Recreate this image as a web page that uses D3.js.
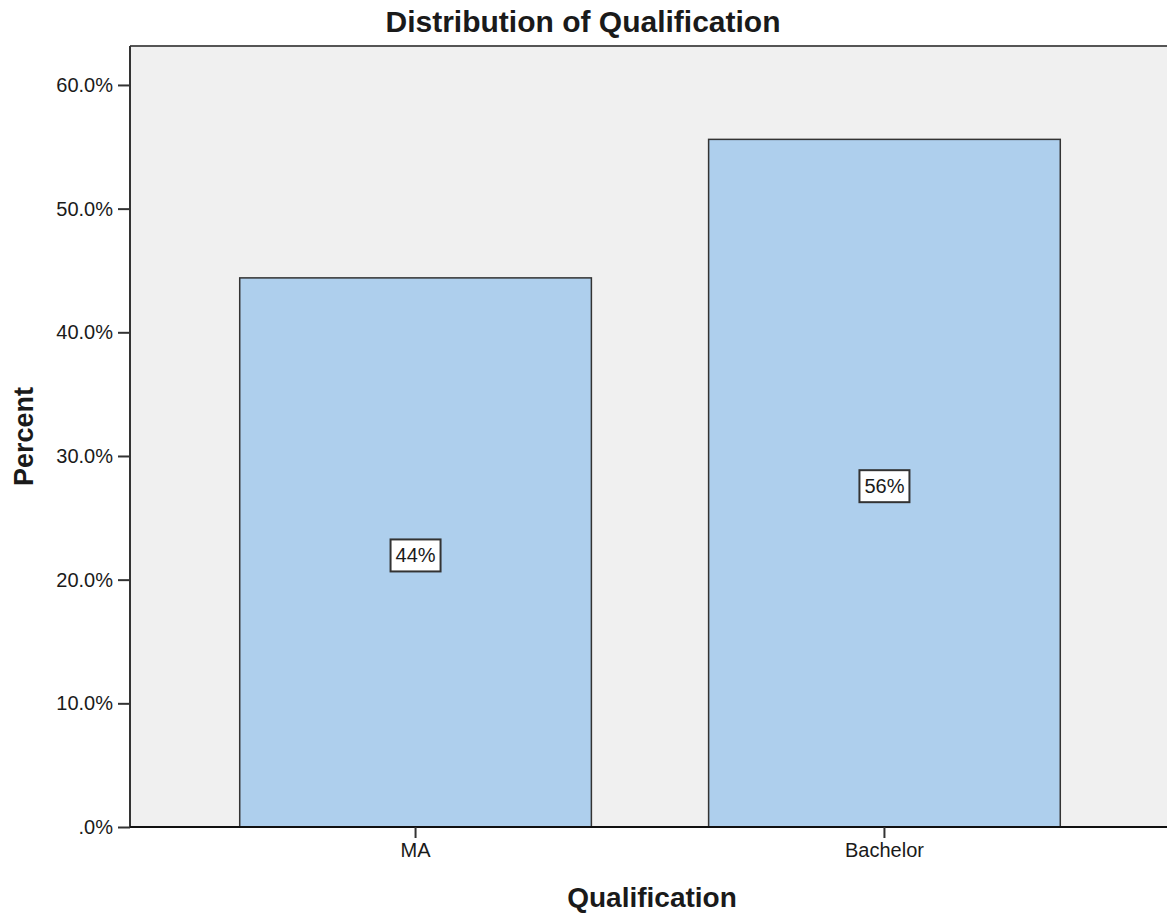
<!DOCTYPE html>
<html>
<head>
<meta charset="utf-8">
<script src="https://cdn.jsdelivr.net/npm/d3@7"></script>
<style>
  html, body { margin: 0; padding: 0; background: #ffffff; }
  svg { display: block; }
  text { font-family: "Liberation Sans", Arial, sans-serif; fill: #1a1a1a; }
</style>
</head>
<body>
<svg id="chart" width="1167" height="914"></svg>
<script>
// ---- data ----
const categories = ["MA", "Bachelor"];
const percents = [44.4, 55.6];
const valueLabels = ["44%", "56%"];
const yTickValues = [0, 10, 20, 30, 40, 50, 60];
const titleText = "Distribution of Qualification";
const xTitle = "Qualification";
const yTitle = "Percent";

// ---- layout ----
const W = 1167, H = 914;
const plot = { left: 130, right: 1167, top: 46, bottom: 827 };

const svg = d3.select("#chart");

const x = d3.scaleBand()
  .domain(categories)
  .range([plot.left, 1170])
  .paddingInner(0.25)
  .paddingOuter(0.234)
  .align(0.5);

const y = d3.scaleLinear()
  .domain([0, 63.15])
  .range([plot.bottom, plot.top]);

// plot background
svg.append("rect")
  .attr("x", plot.left).attr("y", plot.top)
  .attr("width", plot.right - plot.left)
  .attr("height", plot.bottom - plot.top)
  .attr("fill", "#f0f0f0");

// bars
svg.append("g").selectAll("rect")
  .data(categories)
  .join("rect")
  .attr("x", d => x(d))
  .attr("y", (d, i) => y(percents[i]))
  .attr("width", x.bandwidth())
  .attr("height", (d, i) => y(0) - y(percents[i]))
  .attr("fill", "#aecfed")
  .attr("stroke", "#333333")
  .attr("stroke-width", 1.5);

// frame: top line
svg.append("line")
  .attr("x1", plot.left).attr("x2", plot.right)
  .attr("y1", plot.top).attr("y2", plot.top)
  .attr("stroke", "#555555").attr("stroke-width", 2);

// y axis
const yAxis = d3.axisLeft(y)
  .tickValues(yTickValues)
  .tickSize(12)
  .tickPadding(5)
  .tickFormat(d => d === 0 ? ".0%" : d.toFixed(1) + "%");
const gy = svg.append("g")
  .attr("transform", `translate(${plot.left},0)`)
  .call(yAxis);
gy.select(".domain").attr("stroke", "#333333").attr("stroke-width", 2)
  .attr("d", `M0,${plot.top}V${plot.bottom}`);
gy.selectAll(".tick line").attr("stroke", "#333333").attr("stroke-width", 2);
gy.selectAll(".tick text")
  .attr("font-size", 20)
  .attr("font-family", "'Liberation Sans', Arial, sans-serif")
  .attr("fill", "#2a2a2a");

// x axis
const xAxis = d3.axisBottom(x)
  .tickSize(11)
  .tickPadding(5);
const gx = svg.append("g")
  .attr("transform", `translate(0,${plot.bottom})`)
  .call(xAxis);
gx.select(".domain").attr("stroke", "#111111").attr("stroke-width", 2)
  .attr("d", `M${plot.left},0H${plot.right}`);
gx.selectAll(".tick line").attr("stroke", "#333333").attr("stroke-width", 2);
gx.selectAll(".tick text")
  .attr("font-size", 20)
  .attr("font-family", "'Liberation Sans', Arial, sans-serif")
  .attr("fill", "#2a2a2a");

// value labels in boxes
const lab = svg.append("g").selectAll("g")
  .data(categories)
  .join("g")
  .attr("transform", (d, i) =>
    `translate(${x(d) + x.bandwidth() / 2},${y(percents[i] / 2) + 3})`);
lab.append("rect")
  .attr("x", -25).attr("y", -16)
  .attr("width", 50).attr("height", 32)
  .attr("fill", "#ffffff")
  .attr("stroke", "#333333")
  .attr("stroke-width", 2);
lab.append("text")
  .attr("text-anchor", "middle")
  .attr("dy", "0.35em")
  .attr("font-size", 20)
  .attr("fill", "#111111")
  .text((d, i) => valueLabels[i]);

// title
svg.append("text")
  .attr("x", 583).attr("y", 32)
  .attr("text-anchor", "middle")
  .attr("font-size", 30)
  .attr("font-weight", "bold")
  .attr("fill", "#111111")
  .text(titleText);

// x axis title
svg.append("text")
  .attr("x", 652).attr("y", 907)
  .attr("text-anchor", "middle")
  .attr("font-size", 28)
  .attr("font-weight", "bold")
  .attr("fill", "#111111")
  .text(xTitle);

// y axis title
svg.append("text")
  .attr("transform", `translate(33,${(plot.top + plot.bottom) / 2}) rotate(-90)`)
  .attr("text-anchor", "middle")
  .attr("font-size", 27)
  .attr("font-weight", "bold")
  .attr("fill", "#111111")
  .text(yTitle);
</script>
</body>
</html>
